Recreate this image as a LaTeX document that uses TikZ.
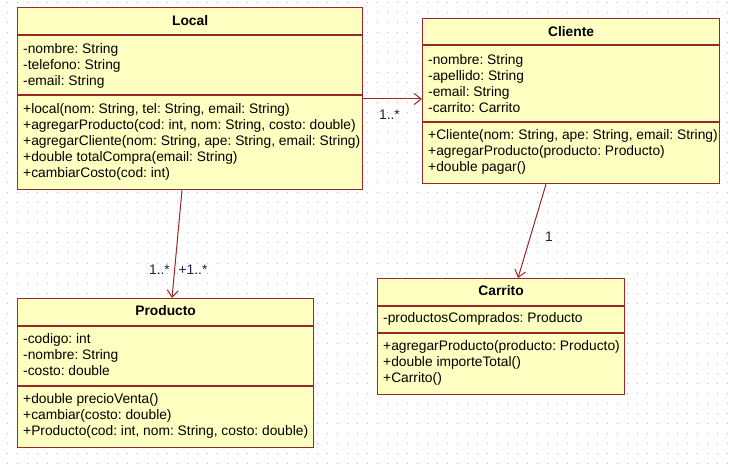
\documentclass[tikz,border=0pt]{standalone}
\usepackage{fontspec}
\setmainfont{Liberation Sans}
\usetikzlibrary{arrows.meta}
\definecolor{umlfill}{RGB}{255,255,194}
\definecolor{umlline}{RGB}{155,40,40}
\definecolor{multc}{RGB}{30,30,80}
\definecolor{griddot}{RGB}{185,185,185}
\frenchspacing
\begin{document}
\begin{tikzpicture}[x=1pt,y=-1pt,
  classbox/.style={draw=umlline, fill=umlfill, line width=1.2pt, anchor=north west, inner sep=0pt},
  divider/.style={draw=umlline, line width=1.2pt},
  title/.style={font=\fontsize{13.8}{16}\selectfont\bfseries, inner sep=0pt, anchor=center},
  members/.style={font=\fontsize{13.8}{16}\selectfont\frenchspacing, align=left, inner sep=0pt, anchor=north west},
  mult/.style={font=\fontsize{13.8}{16}\selectfont, text=multc, inner sep=0pt, anchor=center},
  assoc/.style={draw=umlline, line width=1pt, -{Straight Barb[length=7pt,width=11pt]}}]
\useasboundingbox (0,0) rectangle (731,465);
\fill[white] (0,0) rectangle (731,465);
% background dot grid
\foreach \gy in {3,13,...,463}
  \draw[griddot, line width=1pt, dash pattern=on 1pt off 9pt] (6.5,\gy) -- (731,\gy);

% Local
\node[classbox, minimum width=345pt, minimum height=182pt] (local) at (17,7) {};
\draw[divider] (local.west |- 0,35) -- (local.east |- 0,35);
\draw[divider] (local.west |- 0,95) -- (local.east |- 0,95);
\node[title] (local-t) at (local.north |- 0,21) {Local};
\node[members] (local-a) at (23,42.3) {\strut-nombre: String\\-telefono: String\\-email: String};
\node[members] (local-m) at (23,102.3) {\strut+local(nom: String, tel: String, email: String)\\+agregarProducto(cod: int, nom: String, costo: double)\\+agregarCliente(nom: String, ape: String, email: String)\\+double totalCompra(email: String)\\+cambiarCosto(cod: int)};

% Cliente
\node[classbox, minimum width=297pt, minimum height=165pt] (cliente) at (422,18) {};
\draw[divider] (cliente.west |- 0,45) -- (cliente.east |- 0,45);
\draw[divider] (cliente.west |- 0,122) -- (cliente.east |- 0,122);
\node[title] (cliente-t) at (cliente.north |- 0,32) {Cliente};
\node[members] (cliente-a) at (428,53.3) {\strut-nombre: String\\-apellido: String\\-email: String\\-carrito: Carrito};
\node[members] (cliente-m) at (428,128.3) {\strut+Cliente(nom: String, ape: String, email: String)\\+agregarProducto(producto: Producto)\\+double pagar()};

% Producto
\node[classbox, minimum width=296pt, minimum height=149pt] (producto) at (17,298) {};
\draw[divider] (producto.west |- 0,326) -- (producto.east |- 0,326);
\draw[divider] (producto.west |- 0,386) -- (producto.east |- 0,386);
\node[title] (producto-t) at (producto.north |- 0,311) {Producto};
\node[members] (producto-a) at (23,332.3) {\strut-codigo: int\\-nombre: String\\-costo: double};
\node[members] (producto-m) at (23,392.3) {\strut+double precioVenta()\\+cambiar(costo: double)\\+Producto(cod: int, nom: String, costo: double)};

% Carrito
\node[classbox, minimum width=247pt, minimum height=116pt] (carrito) at (377,278) {};
\draw[divider] (carrito.west |- 0,306) -- (carrito.east |- 0,306);
\draw[divider] (carrito.west |- 0,333) -- (carrito.east |- 0,333);
\node[title] (carrito-t) at (carrito.north |- 0,291) {Carrito};
\node[members] (carrito-a) at (383,311.3) {\strut-productosComprados: Producto};
\node[members] (carrito-m) at (383,339.3) {\strut+agregarProducto(producto: Producto)\\+double importeTotal()\\+Carrito()};

% associations
\draw[assoc] (local.east |- 0,99) -- (cliente.west |- 0,99);
\draw[assoc] (local.south -| 182,0) -- (producto.north -| 172,0);
\draw[assoc] (cliente.south -| 546,0) -- (carrito.north -| 518,0);

% multiplicities
\node[mult] (m-lc) at (389.5,115) {1..*};
\node[mult] (m-lp1) at (159.5,270) {1..*};
\node[mult] (m-lp2) at (193,270) {+1..*};
\node[mult] (m-cc) at (549,237) {1};
\end{tikzpicture}
\end{document}
